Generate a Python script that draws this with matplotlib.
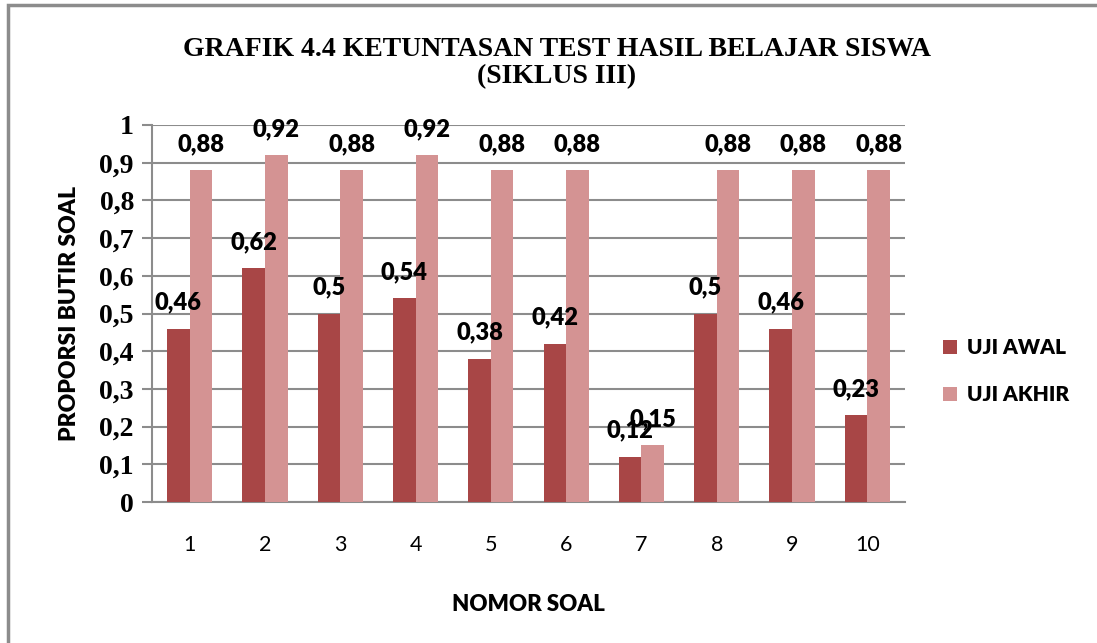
import numpy as np
import matplotlib.pyplot as plt
from matplotlib.patches import Rectangle

soal = ['1', '2', '3', '4', '5', '6', '7', '8', '9', '10']
uji_awal = [0.46, 0.62, 0.5, 0.54, 0.38, 0.42, 0.12, 0.5, 0.46, 0.23]
uji_akhir = [0.88, 0.92, 0.88, 0.92, 0.88, 0.88, 0.15, 0.88, 0.88, 0.88]
yticks = [0, 0.1, 0.2, 0.3, 0.4, 0.5, 0.6, 0.7, 0.8, 0.9, 1]
ylabels = ['0', '0,1', '0,2', '0,3', '0,4', '0,5', '0,6', '0,7', '0,8', '0,9', '1']

c_awal = '#A84646'
c_akhir = '#D49393'
sans = ['Lato', 'DejaVu Sans']
serif = ['Liberation Serif', 'DejaVu Serif']

fig = plt.figure(figsize=(10.97, 6.43), dpi=100)
fig.patches.append(Rectangle((8/1097, -0.1), 1.2, 1 - 5/643 + 0.1, transform=fig.transFigure,
                             fill=False, edgecolor='#8C8C8C', linewidth=2.5))
ax = fig.add_axes([152/1097, 1 - 502/643, 753/1097, 377/643])

x = np.arange(len(soal))
w = 0.3
b1 = ax.bar(x - w/2, uji_awal, w, color=c_awal, label='UJI AWAL', zorder=3)
b2 = ax.bar(x + w/2, uji_akhir, w, color=c_akhir, label='UJI AKHIR', zorder=3)

for bars, vals in [(b1, uji_awal), (b2, uji_akhir)]:
    for r, v in zip(bars, vals):
        ax.annotate(('%g' % v).replace('.', ','), (r.get_x() + r.get_width()/2, v),
                    xytext=(0, 11), textcoords='offset points', ha='center', va='bottom',
                    fontsize=17, fontweight='heavy', family=sans)

ax.set_xlim(-0.5, len(soal) - 0.5)
ax.set_ylim(0, 1)
ax.set_xticks(x)
ax.set_xticklabels(soal, fontsize=15.5, family=sans)
ax.set_yticks(yticks)
ax.set_yticklabels(ylabels, fontsize=20, fontweight='bold', family=serif)
ax.tick_params(axis='x', length=0, pad=24)
ax.tick_params(axis='y', length=7, color='#8C8C8C', width=1.5, pad=6)
ax.grid(axis='y', color='#8C8C8C', linewidth=1.5, zorder=0)
for s in ['top', 'right']:
    ax.spines[s].set_visible(False)
for s in ['left', 'bottom']:
    ax.spines[s].set_color('#8C8C8C')
    ax.spines[s].set_linewidth(1.5)

ax.set_xlabel('NOMOR SOAL', fontsize=16, fontweight='heavy', family=sans, labelpad=28)
ax.set_ylabel('PROPORSI BUTIR SOAL', fontsize=16.5, fontweight='heavy', family=sans, labelpad=14)

fig.text(557/1097, 1 - 63/643, 'GRAFIK 4.4 KETUNTASAN TEST HASIL BELAJAR SISWA\n(SIKLUS III)',
         ha='center', va='center', fontsize=20, fontweight='bold', family=serif, linespacing=1.15)

ax.legend(loc='center left', bbox_to_anchor=(1.025, 0.347), frameon=False, handlelength=0.7,
          handleheight=0.7, handletextpad=0.45, labelspacing=1.35,
          prop={'family': sans, 'weight': 'heavy', 'size': 15})

fig.savefig('out.png', dpi=100)
